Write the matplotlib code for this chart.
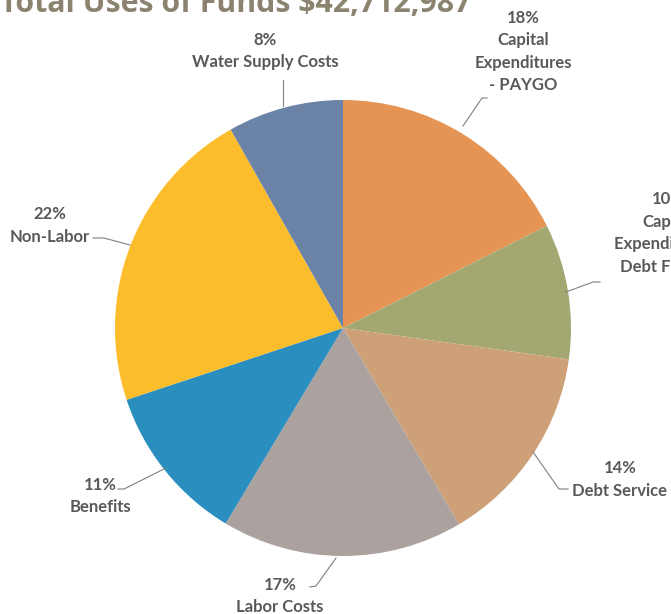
import matplotlib.pyplot as plt

# ---------------------------------------------------------------------------- #
# DATA (percent of total uses)

categories = ['Capital\nExpenditures\n- PAYGO', 'Capital\nExpenditures -\nDebt Funded',
              'Debt Service', 'Labor Costs', 'Benefits', 'Non-Labor', 'Water Supply Costs']
shares = [17.6, 9.6, 14.3, 17.1, 11.3, 21.9, 8.2]
pct_labels = ['18%', '10%', '14%', '17%', '11%', '22%', '8%']
colors = ['#E59453', '#A3A873', '#CDA078', '#ABA19E', '#2A8EBF', '#FBBD2B', '#6A83A6']
title = 'Total Uses of Funds $42,712,987'

# ---------------------------------------------------------------------------- #
# FIGURE (axes in pixel units, origin bottom-left)

W, H = 671, 614
fig = plt.figure(figsize=(W / 100, H / 100), dpi=100)
ax = fig.add_axes([0, 0, 1, 1])

ax.pie(shares, colors=colors, startangle=90, counterclock=False,
       center=(343, H - 328), radius=228,
       wedgeprops=dict(linewidth=0))
ax.set_xlim(0, W)
ax.set_ylim(0, H)
ax.set_aspect('equal')
ax.axis('off')

# label anchors (text centre x, first line centre y in pixels from top) and leader lines
label_pos = [(523, 16), (668, 197), (620, 466), (280, 583), (100, 483), (50, 212), (265, 38)]
leaders = [
    [(487, 98), (482, 98), (463, 126)],
    [(600, 282), (593, 282), (566, 292)],
    [(568, 489), (559, 489), (533, 452)],
    [(310, 587), (316, 586), (336, 558)],
    [(118, 489), (124, 489), (166, 468)],
    [(93, 238), (104, 238), (130, 245)],
    [(283, 80), (283, 106)],
]

text_kw = dict(ha='center', va='top', color='#595959', fontsize=12,
               fontweight='bold', family=['Lato', 'DejaVu Sans'], linespacing=1.5)

for cat, pct, (x, y), pts in zip(categories, pct_labels, label_pos, leaders):
    ax.text(x, H - y + 6, pct + '\n' + cat, **text_kw)
    xs = [p[0] for p in pts]
    ys = [H - p[1] for p in pts]
    ax.plot(xs, ys, color='#808080', linewidth=0.8)

fig.text(236 / W, (H - 12) / H, title, ha='center', va='baseline',
         color='#8B8370', fontsize=21.8, fontweight='bold',
         family=['Open Sans', 'DejaVu Sans'])

fig.savefig('out.png', dpi=100)
